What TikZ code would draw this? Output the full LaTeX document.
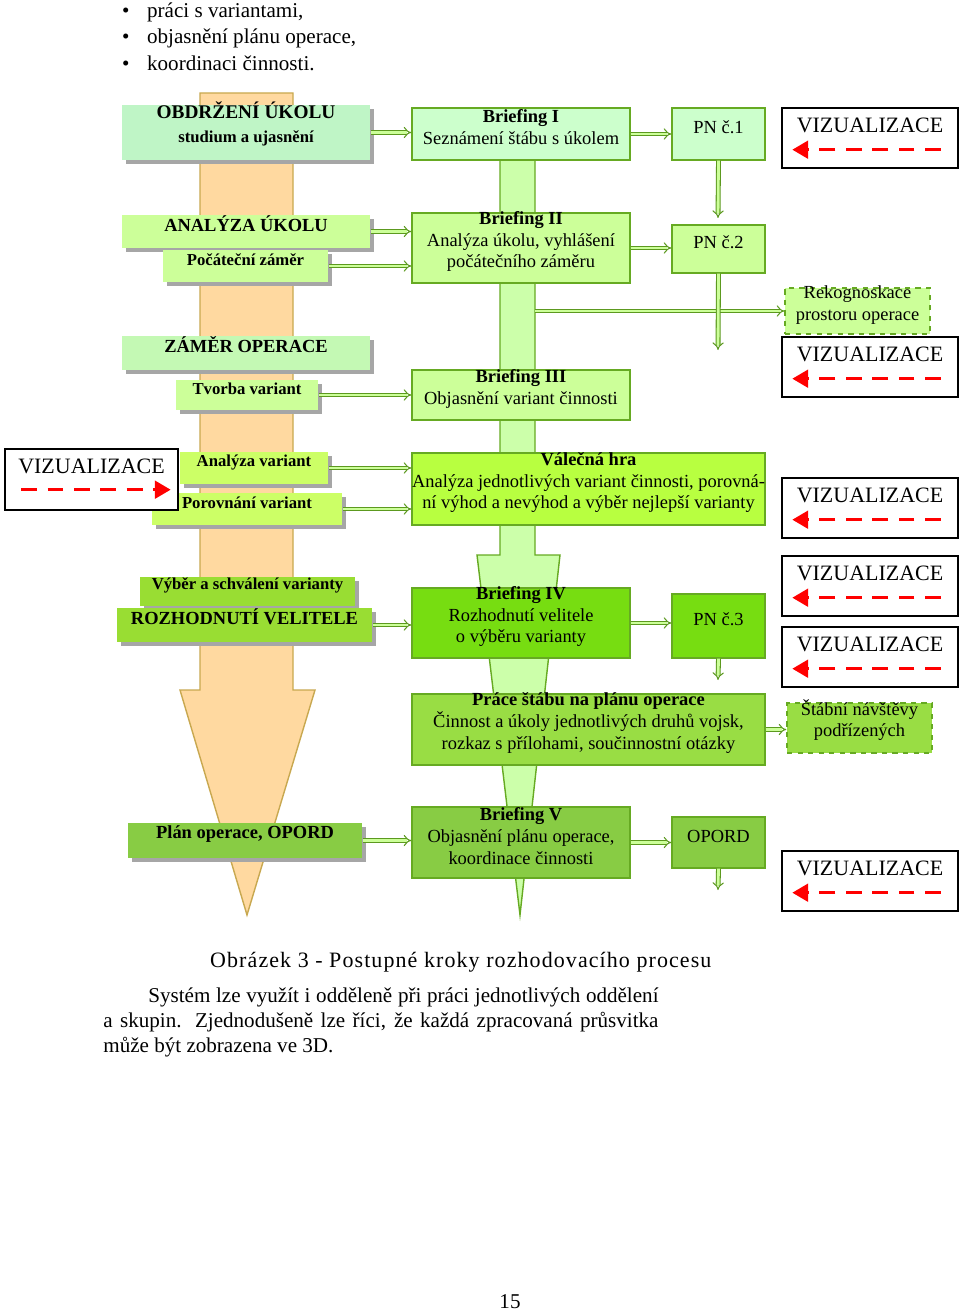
\documentclass[tikz,border=0pt]{standalone}
\usepackage{fontspec}
\setmainfont{Liberation Serif}
\usetikzlibrary{positioning, fit, shadows, arrows.meta}
\definecolor{mint}{HTML}{BFF5C6}
\definecolor{paleg}{HTML}{CCFFCC}
\definecolor{limeA}{HTML}{CCFF99}
\definecolor{limeB}{HTML}{CCFF66}
\definecolor{limeC}{HTML}{B8FF40}
\definecolor{grnA}{HTML}{99DD33}
\definecolor{grnB}{HTML}{77DD11}
\definecolor{grnC}{HTML}{99DD44}
\definecolor{grnD}{HTML}{88CC44}
\definecolor{edge}{HTML}{66AA22}
\definecolor{orng}{HTML}{FFD9A0}
\definecolor{orngedge}{HTML}{C8A850}
\definecolor{colg}{HTML}{CCFFAA}
\tikzset{
  box/.style={draw=edge, line width=0.8pt, inner sep=0pt, align=center,
    font=\fontsize{10.5}{12.5}\selectfont},
  lbox/.style={box, draw=none, font=\bfseries\fontsize{10.5}{12.5}\selectfont,
    drop shadow={shadow xshift=2pt, shadow yshift=-2pt, fill=gray!70, opacity=1}},
  sbox/.style={lbox, font=\bfseries\fontsize{9.5}{11.5}\selectfont},
  dbox/.style={box, dashed, fill=limeA},
  dar/.style={draw=edge!90!black, double=limeA, double distance=1.6pt, line width=0.6pt,
    -{Implies[length=6pt]}},
  vizbox/.style={draw=black, line width=0.8pt, fill=white, inner sep=0pt},
  viztext/.style={font=\fontsize{12.5}{14}\selectfont, inner sep=0pt},
  redar/.style={red, line width=1.8pt, dash pattern=on 9pt off 6pt,
    -{Triangle[length=9pt,width=10pt]}}
}
\begin{document}
\begin{tikzpicture}[x=0.02cm, y=-0.02cm]
\useasboundingbox (0,0) rectangle (960,1311);
%list above
\foreach \yy/\tt in {12/{práci s variantami,}, 38/{objasnění plánu operace,}, 63/{koordinaci činnosti.}}
  \node[anchor=west, font=\fontsize{12}{14}\selectfont] (li\yy) at (116,\yy) {\textbullet\hspace{10pt}\tt};
%columns
\draw[orngedge, fill=orng, line width=0.8pt] (200,93) -- (293,93) -- (293,690) -- (315,690) -- (247,915) -- (180,690) -- (200,690) -- cycle;
\draw[edge, fill=colg, line width=0.8pt] (500,160) -- (535,160) -- (535,555) -- (560,555) -- (520,915) -- (477,555) -- (500,555) -- cycle;
%left boxes
\node[lbox, fill=mint, fit={(122,105) (370,160)}] (obdr) {\fontsize{11}{13}\selectfont OBDRŽENÍ ÚKOLU\\[1pt]\fontsize{9.5}{11}\selectfont studium a ujasnění};
\node[lbox, fill=limeA, fit={(122,215) (370,248)}] (anal) {ANALÝZA ÚKOLU};
\node[sbox, fill=limeA, fit={(163,250) (328,282)}] (pocz) {Počáteční záměr};
\node[lbox, fill=mint!60!limeA, fit={(122,336) (370,370)}] (zamer) {ZÁMĚR OPERACE};
\node[sbox, fill=limeA, fit={(176,380) (318,410)}] (tvorba) {Tvorba variant};
\node[sbox, fill=limeB, fit={(180,452) (328,484)}] (analvar) {Analýza variant};
\node[sbox, fill=limeB, fit={(152,493) (342,525)}] (porov) {Porovnání variant};
\node[sbox, fill=grnA, fit={(140,577) (355,606)}] (vyber) {Výběr a schválení varianty};
\node[lbox, fill=grnA, fit={(117,608) (372,642)}] (rozh) {ROZHODNUTÍ VELITELE};
\node[lbox, fill=grnD, fit={(128,823) (362,858)}] (plan) {Plán operace, OPORD};
%centre boxes
\node[box, fill=paleg, fit={(412,108) (630,160)}] (brI) {\textbf{Briefing I}\\Seznámení štábu s úkolem};
\node[box, fill=limeA, fit={(412,213) (630,283)}] (brII) {\textbf{Briefing II}\\Analýza úkolu, vyhlášení\\počátečního záměru};
\node[box, fill=limeA, fit={(412,370) (630,420)}] (brIII) {\textbf{Briefing III}\\Objasnění variant činnosti};
\node[box, fill=limeC, fit={(412,453) (765,525)}] (hra) {\textbf{Válečná hra}\\Analýza jednotlivých variant činnosti, porovná-\\ní výhod a nevýhod a výběr nejlepší varianty};
\node[box, fill=grnB, fit={(412,588) (630,658)}] (brIV) {\textbf{Briefing IV}\\Rozhodnutí velitele\\o výběru varianty};
\node[box, fill=grnC, fit={(412,694) (765,765)}] (prace) {\textbf{Práce štábu na plánu operace}\\Činnost a úkoly jednotlivých druhů vojsk,\\rozkaz s přílohami, součinnostní otázky};
\node[box, fill=grnD, fit={(412,807) (630,878)}] (brV) {\textbf{Briefing V}\\Objasnění plánu operace,\\koordinace činnosti};
%PN boxes
\node[box, fill=paleg, fit={(672,108) (765,160)}] (pnI) {PN č.1};
\node[box, fill=limeA, fit={(672,225) (765,273)}] (pnII) {PN č.2};
\node[box, fill=grnB, fit={(672,594) (765,658)}] (pnIII) {PN č.3};
\node[box, fill=grnD, fit={(672,817) (765,868)}] (opord) {OPORD};
\node[dbox, fit={(785,288) (930,334)}] (rekog) {Rekognoskace\\prostoru operace};
\node[dbox, fill=grnC, fit={(787,703) (932,753)}] (stab) {Štábní návštěvy\\podřízených};
%arrows
\draw[dar] (obdr.east) -- (obdr.east -| brI.west);
\draw[dar] (brI.east) -- (brI.east -| pnI.west);
\draw[dar] (anal.east) -- (anal.east -| brII.west);
\draw[dar] (pocz.east) -- (pocz.east -| brII.west);
\draw[dar] (brII.east) -- (brII.east -| pnII.west);
\draw[dar] (tvorba.east) -- (tvorba.east -| brIII.west);
\draw[dar] (analvar.east) -- (analvar.east -| hra.west);
\draw[dar] (porov.east) -- (porov.east -| hra.west);
\draw[dar] (rozh.east) -- (rozh.east -| brIV.west);
\draw[dar] (brIV.east) -- (brIV.east -| pnIII.west);
\draw[dar] (plan.east) -- (plan.east -| brV.west);
\draw[dar] (brV.east) -- (brV.east -| opord.west);
\draw[dar] (prace.east) -- (prace.east -| stab.west);
\coordinate (col) at (535,311);
\draw[dar] (col) -- (col -| rekog.west);
\coordinate (dI) at (718,218);
\coordinate (dII) at (718,350);
\coordinate (dIII) at (718,680);
\coordinate (dIV) at (718,890);
\draw[dar] (pnI.south) -- (dI);
\draw[dar] (pnII.south) -- (dII);
\draw[dar] (pnIII.south) -- (dIII);
\draw[dar] (opord.south) -- (dIV);
%visualisation boxes
\foreach \t/\n in {108/1, 337/2, 478/3, 556/4, 627/5, 851/6} {
  \node[vizbox, fit={(782,\t) (958,\t+60)}] (viz\n) {};
  \node[viztext, below=6pt of viz\n.north] (vizt\n) {VIZUALIZACE};
  \draw[redar] ([shift={(-18,-19)}]viz\n.south east) -- ([shift={(11,-19)}]viz\n.south west);
}
\node[vizbox, fit={(5,449) (178,510)}] (vizL) {};
\node[viztext, below=6pt of vizL.north] (viztL) {VIZUALIZACE};
\draw[redar] ([shift={(17,-21)}]vizL.south west) -- ([shift={(-8,-21)}]vizL.south east);
%text below
\node[anchor=west, font=\fontsize{12.5}{15}\selectfont\addfontfeature{LetterSpace=5}] (capt) at (204,962) {Obrázek 3 - Postupné kroky rozhodovacího procesu};
\node[anchor=north west, text width=790\pgflinewidth, font=\fontsize{12}{14.3}\selectfont, inner sep=0pt, align=justify] (para) at (103,987)
  {\hspace*{64\pgflinewidth}Systém lze využít i odděleně při práci jednotlivých oddělení a skupin. Zjednodušeně lze říci, že každá zpracovaná průsvitka může být zobrazena ve 3D.};
\node[font=\fontsize{12}{14}\selectfont] (pg) at (510,1302) {15};
\end{tikzpicture}
\end{document}
